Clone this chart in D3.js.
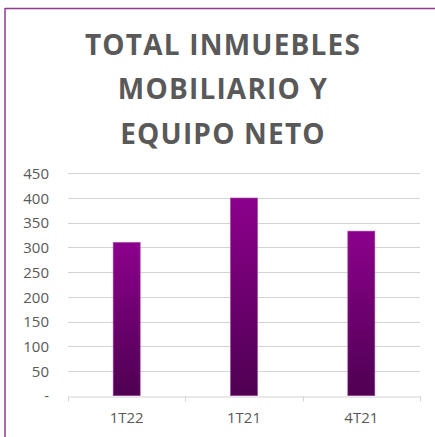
<!DOCTYPE html>
<html><head><meta charset="utf-8">
<script src="https://cdn.jsdelivr.net/npm/d3@7"></script>
<style>html,body{margin:0;padding:0;background:#fff;}svg{display:block;}</style>
</head><body>
<script>
const categories = ["1T22", "1T21", "4T21"];
const values = [310, 400, 333];
const yTicks = [0, 50, 100, 150, 200, 250, 300, 350, 400, 450];
const titleLines = ["TOTAL INMUEBLES", "MOBILIARIO Y", "EQUIPO NETO"];

const W = 435, H = 437;
const svg = d3.select("body").append("svg").attr("width", W).attr("height", H);

const defs = svg.append("defs");
const grad = defs.append("linearGradient").attr("id", "barGrad")
  .attr("x1", 0).attr("y1", 0).attr("x2", 0).attr("y2", 1);
grad.append("stop").attr("offset", "0%").attr("stop-color", "#8c008c");
grad.append("stop").attr("offset", "100%").attr("stop-color", "#4e0052");

// frame
svg.append("line").attr("x1", 5).attr("x2", W).attr("y1", 8.5).attr("y2", 8.5)
  .attr("stroke", "#8e3a8e").attr("stroke-width", 1.5);
svg.append("line").attr("x1", 5).attr("x2", 5).attr("y1", 8).attr("y2", H)
  .attr("stroke", "#8e3a8e").attr("stroke-width", 1.5);

// title
svg.append("g").selectAll("text").data(titleLines).join("text")
  .attr("x", 223).attr("y", (d, i) => 54.5 + i * 44.6)
  .attr("text-anchor", "middle")
  .attr("font-family", "'Open Sans', sans-serif")
  .attr("font-weight", "bold").attr("font-size", 28)
  .attr("letter-spacing", 1.2)
  .attr("fill", "#595959").text(d => d);

const x = d3.scaleBand().domain(categories).range([68, 420]).paddingInner(0.77).paddingOuter(0.385);
const y = d3.scaleLinear().domain([0, 450]).range([395.7, 173.3]);

// gridlines
svg.append("g").selectAll("line").data(yTicks.filter(d => d > 0)).join("line")
  .attr("x1", 68).attr("x2", 420)
  .attr("y1", d => Math.round(y(d)) + 0.5).attr("y2", d => Math.round(y(d)) + 0.5)
  .attr("stroke", "#d4d4d4").attr("stroke-width", 1.2);

// y axis labels
const yAxis = d3.axisLeft(y).tickValues(yTicks).tickSize(0).tickPadding(0)
  .tickFormat(d => d === 0 ? "-" : d);
const yg = svg.append("g").attr("transform", "translate(49,0)").call(yAxis);
yg.select(".domain").remove();
yg.selectAll("text").attr("font-family", "'Open Sans', sans-serif").attr("font-size", 15)
  .attr("fill", "#595959").attr("dy", "0.35em");

// bars
svg.append("g").selectAll("rect").data(values).join("rect")
  .attr("x", (d, i) => x(categories[i]))
  .attr("width", x.bandwidth())
  .attr("y", d => y(d))
  .attr("height", d => y(0) - y(d))
  .attr("fill", "url(#barGrad)")
  .attr("stroke", "#a040a0").attr("stroke-width", 0.6);

// x axis
const xAxis = d3.axisBottom(x).tickSize(0).tickPadding(16);
const xg = svg.append("g").attr("transform", `translate(0,${Math.round(y(0)) + 0.5})`).call(xAxis);
xg.select(".domain").attr("stroke", "#d4d4d4").attr("stroke-width", 1.2);
xg.selectAll("text").attr("font-family", "'Open Sans', sans-serif").attr("font-size", 15)
  .attr("fill", "#595959");
// boundary ticks
const bounds = [68, 68 + 352 / 3, 68 + 2 * 352 / 3, 420];
xg.append("g").selectAll("line").data(bounds).join("line")
  .attr("x1", d => Math.round(d) + 0.5).attr("x2", d => Math.round(d) + 0.5)
  .attr("y1", 0).attr("y2", 5).attr("stroke", "#d4d4d4");
</script>
</body></html>
